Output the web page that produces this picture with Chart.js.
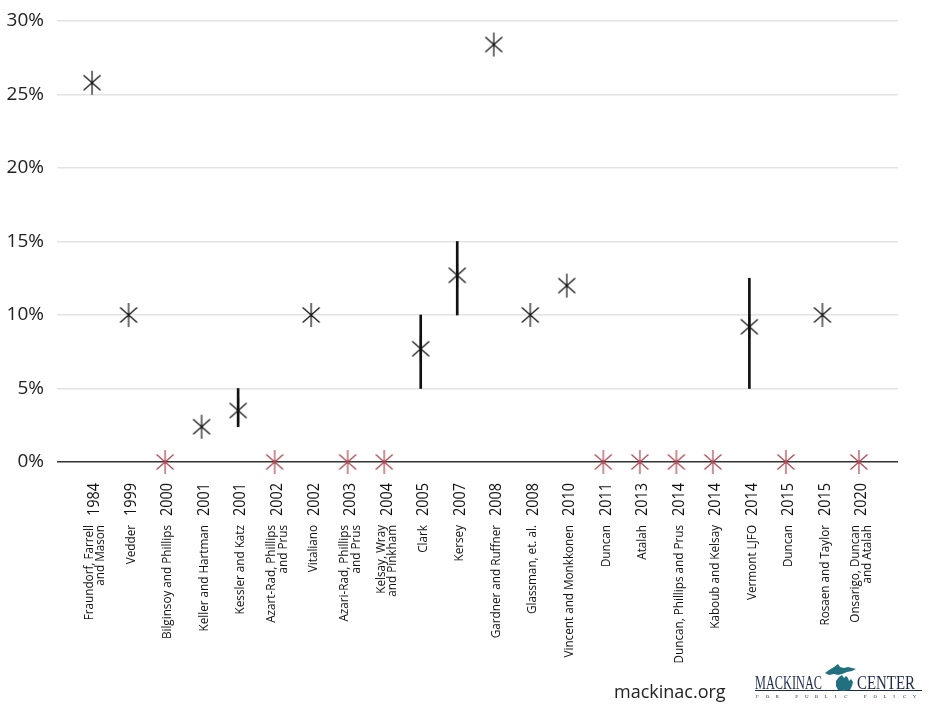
<!DOCTYPE html>
<html>
<head>
<meta charset="utf-8">
<script src="https://cdn.jsdelivr.net/npm/chart.js@4.4.0/dist/chart.umd.min.js"></script>
<style>
  html, body { margin: 0; padding: 0; background: #fff; }
  #wrap { width: 930px; height: 707px; position: relative; }
</style>
</head>
<body>
<div id="wrap"><canvas id="myChart"></canvas></div>
<script>
// studies
const STUDY_NAMES = [
    "Fraundorf, Farrell\nand Mason", "Vedder", "Bilginsoy and Phillips", "Keller and Hartman",
    "Kessler and Katz", "Azart-Rad, Phillips\nand Prus", "Vitaliano", "Azari-Rad, Phillips\nand Prus",
    "Kelsay, Wray\nand Pinkham", "Clark", "Kersey", "Gardner and Ruffner",
    "Glassman, et. al.", "Vincent and Monkkonen", "Duncan", "Atalah",
    "Duncan, Phillips and Prus", "Kaboub and Kelsay", "Vermont LJFO", "Duncan",
    "Rosaen and Taylor", "Onsarigo, Duncan\nand Atalah"
];
const YEARS = ["1984", "1999", "2000", "2001", "2001", "2002", "2002", "2003", "2004", "2005", "2007",
    "2008", "2008", "2010", "2011", "2013", "2014", "2014", "2014", "2015", "2015", "2020"];
// estimated effect in percent
const EFFECTS = [25.8, 10, 0, 2.4, 3.5, 0, 10, 0, 0, 7.7, 12.7, 28.4, 10, 12, 0, 0, 0, 0, 9.2, 0, 10, 0];
// ranges (null = no range)
const RANGE_LOW = [null, null, null, null, 2.4, null, null, null, null, 5, 10, null, null, null, null, null, null, null, 5, null, null, null];
const RANGE_HIGH = [null, null, null, null, 5, null, null, null, null, 10, 15, null, null, null, null, null, null, null, 12.5, null, null, null];
const Y_TICKS = [0, 5, 10, 15, 20, 25, 30];

const BLACK = '#111111';
const RED = '#b0444f';

function makeStar(color) {
    var c = document.createElement('canvas');
    c.width = 22;
    c.height = 26;
    var g = c.getContext('2d');
    g.strokeStyle = color;
    g.lineWidth = 1.2;
    g.beginPath();
    g.moveTo(11, 1); g.lineTo(11, 25);
    g.moveTo(2.5, 5.5); g.lineTo(19.5, 20.5);
    g.moveTo(19.5, 5.5); g.lineTo(2.5, 20.5);
    g.stroke();
    return c;
}

var positive = [], none = [], ranges = [];
for (var i = 0; i < EFFECTS.length; i++) {
    if (EFFECTS[i] > 0) positive.push({x: i, y: EFFECTS[i]});
    else none.push({x: i, y: EFFECTS[i]});
    if (RANGE_LOW[i] != null) ranges.push({x: i, y: [RANGE_LOW[i], RANGE_HIGH[i]]});
}

// study names and years under the axis, plus the footer
const labelPlugin = {
    id: 'studyLabels',
    afterDraw(chart) {
        var ctx = chart.ctx;
        var xs = chart.scales.x;
        ctx.save();
        ctx.fillStyle = '#111';
        for (var i = 0; i < STUDY_NAMES.length; i++) {
            var px = xs.getPixelForValue(i) + 2.5;
            // year
            ctx.save();
            ctx.translate(px, 483);
            ctx.rotate(-Math.PI / 2);
            ctx.scale(0.85, 1);
            ctx.font = '17px "Open Sans"';
            ctx.textAlign = 'right';
            ctx.textBaseline = 'middle';
            ctx.fillText(YEARS[i], 0, 0);
            ctx.restore();
            // name
            var lines = STUDY_NAMES[i].split('\n');
            ctx.save();
            ctx.translate(px, 525);
            ctx.rotate(-Math.PI / 2);
            ctx.scale(0.9, 1);
            ctx.font = '13px "Open Sans"';
            ctx.textAlign = 'right';
            ctx.textBaseline = 'middle';
            for (var k = 0; k < lines.length; k++) {
                ctx.fillText(lines[k], 0, (k - (lines.length - 1) / 2) * 11.5);
            }
            ctx.restore();
        }
        // footer
        ctx.fillStyle = '#222';
        ctx.font = '18px "Open Sans"';
        ctx.textAlign = 'left';
        ctx.textBaseline = 'alphabetic';
        ctx.fillText('mackinac.org', 614, 698);

        ctx.fillStyle = '#1c2a4a';
        ctx.font = '18px "Liberation Serif"';
        var w = ctx.measureText('MACKINAC').width;
        ctx.save();
        ctx.translate(755, 689);
        ctx.scale(67 / w, 1);
        ctx.fillText('MACKINAC', 0, 0);
        ctx.restore();
        w = ctx.measureText('CENTER').width;
        ctx.save();
        ctx.translate(857, 689);
        ctx.scale(58 / w, 1);
        ctx.fillText('CENTER', 0, 0);
        ctx.restore();
        ctx.fillRect(755, 690, 167, 1);
        ctx.font = '5px "Liberation Serif"';
        var small = 'FOR PUBLIC POLICY';
        for (var j = 0; j < small.length; j++) {
            ctx.fillText(small[j], 756 + j * 9.8, 698);
        }
        // michigan shape
        ctx.fillStyle = '#21707f';
        ctx.beginPath();
        var up = [[825,673],[829,670],[834,667],[838,664],[840,667],[844,668],[848,667],[852,668],[856,669],[852,671],[847,672],[842,674],[838,675],[834,674],[829,675]];
        ctx.moveTo(up[0][0], up[0][1]);
        for (var m = 1; m < up.length; m++) ctx.lineTo(up[m][0], up[m][1]);
        ctx.closePath();
        ctx.fill();
        ctx.beginPath();
        var lp = [[839,677],[842,675],[844,678],[846,676],[848,678],[849,681],[851,679],[853,682],[852,686],[850,690],[843,691],[838,690],[836,686],[836,681]];
        ctx.moveTo(lp[0][0], lp[0][1]);
        for (var m = 1; m < lp.length; m++) ctx.lineTo(lp[m][0], lp[m][1]);
        ctx.closePath();
        ctx.fill();
        ctx.restore();
    }
};

var config = {
    type: 'scatter',
    data: {
        datasets: [
            {
                type: 'bar',
                data: ranges,
                backgroundColor: '#111',
                barThickness: 2,
                clip: false,
                order: 2
            },
            {
                data: positive,
                pointStyle: makeStar(BLACK),
                pointRadius: 11,
                clip: false,
                order: 1
            },
            {
                data: none,
                pointStyle: makeStar(RED),
                pointRadius: 11,
                clip: false,
                order: 1
            }
        ]
    },
    options: {
        responsive: true,
        maintainAspectRatio: false,
        animation: false,
        events: [],
        layout: {
            padding: { left: 0, right: 32, top: 21, bottom: 245 }
        },
        scales: {
            x: {
                type: 'linear',
                display: false,
                offset: false,
                min: -0.96,
                max: 22.07
            },
            y: {
                min: 0,
                max: 30,
                afterFit: function (scale) {
                    scale.width = 57;
                    scale.paddingTop = 0;
                    scale.paddingBottom = 0;
                },
                afterBuildTicks: function (scale) {
                    scale.ticks = Y_TICKS.map(function (v) { return {value: v}; });
                },
                border: { display: false },
                grid: {
                    drawTicks: false,
                    color: function (c) { return c.tick && c.tick.value === 0 ? '#333' : '#e3e3e3'; },
                    lineWidth: 1.5
                },
                ticks: {
                    padding: 13,
                    color: '#222',
                    font: { family: 'Open Sans', size: 19 },
                    callback: function (v) { return v + '%'; }
                }
            }
        },
        plugins: {
            legend: { display: false },
            tooltip: { enabled: false }
        }
    },
    plugins: [labelPlugin]
};

new Chart(document.getElementById('myChart'), config);
</script>
</body>
</html>
